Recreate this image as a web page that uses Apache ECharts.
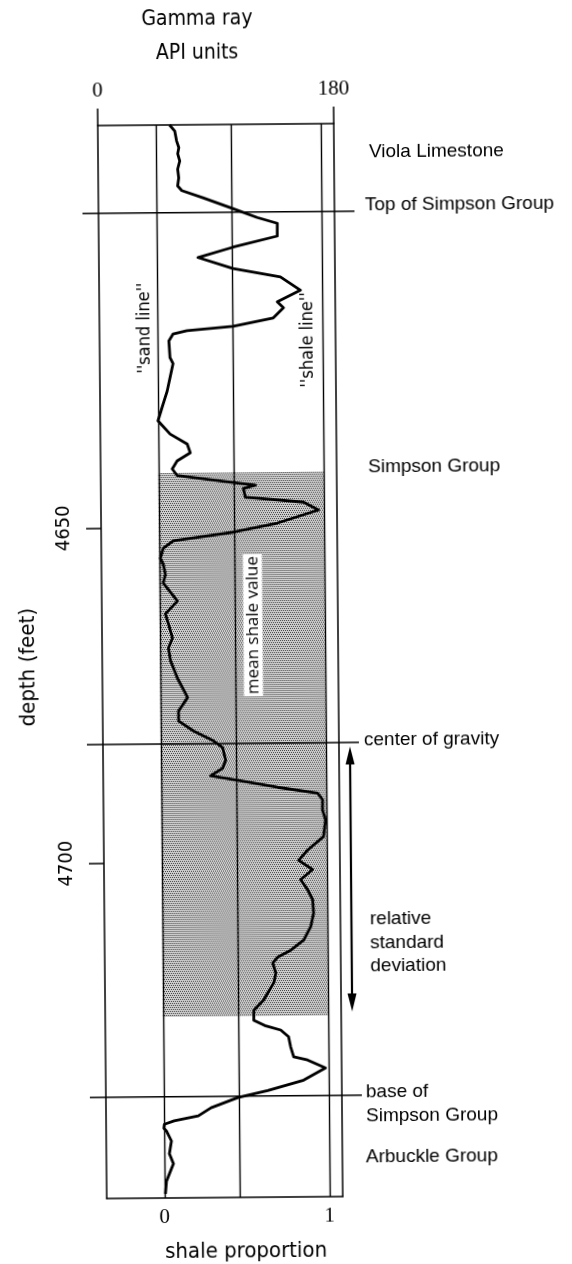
<!DOCTYPE html>
<html><head><meta charset="utf-8">
<script src="https://cdn.jsdelivr.net/npm/echarts@6/dist/echarts.min.js"></script>
<style>html,body{margin:0;padding:0;background:#fff;overflow:hidden}#c{width:572px;height:1264px;transform:rotate(-0.48deg);transform-origin:286px 632px}</style>
</head><body><div id="c"></div>
<script>
// ---- data ----
const depthFt = [4590.0,4590.9,4592.4,4593.4,4594.3,4595.4,4596.6,4597.9,4599.1,4599.8,4600.9,4602.5,4603.9,4604.8,4606.7,4608.3,4609.8,4611.5,4612.8,4614.8,4616.5,4617.4,4618.9,4620.1,4620.7,4621.2,4622.2,4624.7,4625.6,4627.7,4629.7,4631.6,4634.1,4636.1,4637.6,4638.9,4640.1,4641.3,4642.3,4643.4,4643.8,4644.3,4645.6,4646.4,4647.6,4649.5,4650.8,4652.0,4653.1,4654.6,4655.5,4657.0,4658.3,4661.0,4662.9,4664.4,4666.5,4668.0,4669.9,4672.5,4674.8,4675.4,4677.4,4678.9,4680.4,4681.9,4682.9,4684.8,4686.0,4687.1,4687.8,4688.9,4689.8,4690.8,4692.3,4693.8,4696.3,4698.3,4699.8,4701.2,4702.7,4704.2,4705.7,4707.7,4709.7,4711.7,4713.2,4714.2,4715.1,4716.6,4718.0,4720.6,4722.1,4723.6,4724.4,4725.1,4726.1,4727.6,4729.1,4729.6,4730.8,4732.6,4734.1,4735.1,4736.6,4737.8,4738.5,4739.0,4739.6,4740.0,4741.5,4743.4,4744.9,4746.4,4747.5,4749.4];
const shaleProp = [0.085,0.116,0.127,0.14,0.133,0.145,0.132,0.138,0.131,0.156,0.284,0.46,0.611,0.733,0.732,0.464,0.25,0.463,0.749,0.87,0.729,0.766,0.704,0.46,0.18,0.095,0.07,0.076,0.094,0.075,0.057,0.032,0.0,0.073,0.176,0.194,0.114,0.084,0.114,0.454,0.587,0.514,0.526,0.877,0.968,0.718,0.451,0.087,0.026,0.007,0.025,0.037,0.024,0.109,0.035,0.053,0.077,0.052,0.064,0.105,0.153,0.165,0.11,0.11,0.2,0.321,0.375,0.393,0.374,0.301,0.464,0.706,0.948,0.978,0.977,0.995,0.982,0.885,0.83,0.914,0.841,0.883,0.913,0.918,0.9,0.857,0.778,0.699,0.668,0.686,0.674,0.611,0.551,0.55,0.616,0.713,0.76,0.772,0.79,0.874,0.982,0.849,0.631,0.45,0.287,0.209,0.063,0.003,0.0,0.015,0.045,0.032,0.056,0.031,0.013,0.006];
const gammaTicks = [0, 180];
const shaleTicks = [0, 1];
const depthTicks = [4650, 4700];
const refLines = [0, 0.46, 1];               // sand line, mean shale value, shale line
const horizons = [4603.1, 4682.3, 4734.9];  // top of Simpson, center of gravity, base of Simpson
const shadeRange = [4641.9, 4723.0];
const sdArrow = [4682.9, 4722.4];

// ---- chart ----
const GL = 102, GT = 124, GW = 236, GH = 1073;
const COND = '"DejaVu Sans Condensed", "DejaVu Sans", sans-serif';
const HELV = '"Liberation Sans", Arial, sans-serif';
const SERIF = '"Liberation Serif", serif';
const chart = echarts.init(document.getElementById('c'), null, {renderer: 'canvas'});

const pc = document.createElement('canvas'); pc.width = 4; pc.height = 4;
const g = pc.getContext('2d');
g.fillStyle = '#cfcfcf'; g.fillRect(0, 0, 4, 4);
g.fillStyle = '#444';
[[0,0],[2,0],[1,2],[3,2]].forEach(p => g.fillRect(p[0], p[1], 1, 1));

const black = {color: '#000', width: 1.5};
const curveData = depthFt.map((d, i) => [shaleProp[i], d]);

chart.setOption({
  animation: false,
  backgroundColor: '#fff',
  grid: {left: GL, top: GT, width: GW, height: GH},
  xAxis: [
    {type: 'value', min: -0.35, max: 1.08, position: 'bottom',
     axisLine: {show: true, onZero: false, lineStyle: black}, axisTick: {show: false}, splitLine: {show: false},
     axisLabel: {customValues: shaleTicks, formatter: v => String(v), color: '#000', fontFamily: SERIF, fontSize: 21, margin: 9}},
    {type: 'value', min: 0, max: 180, position: 'top',
     axisLine: {show: true, onZero: false, lineStyle: black},
     axisTick: {show: true, customValues: gammaTicks, length: 17, lineStyle: black},
     splitLine: {show: false},
     axisLabel: {customValues: gammaTicks, formatter: v => String(v), color: '#000', fontFamily: SERIF, fontSize: 21, margin: 24}}
  ],
  yAxis: [
    {type: 'value', inverse: true, min: 4590, max: 4750, position: 'left',
     axisLine: {show: true, onZero: false, lineStyle: black},
     axisTick: {show: true, customValues: depthTicks, length: 15, lineStyle: black},
     splitLine: {show: false},
     axisLabel: {customValues: depthTicks, formatter: v => String(v), rotate: 90, color: '#000', fontFamily: COND, fontSize: 20, margin: 27}},
    {type: 'value', inverse: true, min: 4590, max: 4750, position: 'right',
     axisLine: {show: true, onZero: false, lineStyle: black}, axisTick: {show: false}, axisLabel: {show: false}, splitLine: {show: false}}
  ],
  series: [
    {type: 'custom', xAxisIndex: 0, yAxisIndex: 0, silent: true, z: 1,
     data: [[0, shadeRange[0], 1, shadeRange[1]]],
     renderItem: (params, api) => {
       const a = api.coord([api.value(0), api.value(1)]);
       const b = api.coord([api.value(2), api.value(3)]);
       return {type: 'rect', shape: {x: a[0], y: a[1], width: b[0] - a[0], height: b[1] - a[1]},
               style: {fill: {image: pc, repeat: 'repeat'}}};
     }},
    {type: 'line', xAxisIndex: 0, yAxisIndex: 0, data: [], silent: true, z: 2,
     markLine: {silent: true, symbol: ['none', 'none'], label: {show: false},
       lineStyle: {color: '#000', width: 1.4, type: 'solid'},
       data: refLines.map(v => ({xAxis: v}))}},
    {type: 'custom', xAxisIndex: 0, yAxisIndex: 0, silent: true, z: 3, clip: false,
     data: horizons.map(h => [0, h]),
     renderItem: (params, api) => {
       const p = api.coord([0, api.value(1)]);
       return {type: 'line', shape: {x1: GL - 16, y1: p[1], x2: GL + GW + 20, y2: p[1]},
               style: {stroke: '#000', lineWidth: 1.5}};
     }},
    {type: 'custom', xAxisIndex: 0, yAxisIndex: 0, silent: true, z: 3, clip: false,
     data: [[0, sdArrow[0], 0, sdArrow[1]]],
     renderItem: (params, api) => {
       const y1 = api.coord([0, api.value(1)])[1];
       const y2 = api.coord([0, api.value(3)])[1];
       const x = GL + GW + 11;
       return {type: 'group', children: [
         {type: 'line', shape: {x1: x, y1: y1 + 10, x2: x, y2: y2 - 10}, style: {stroke: '#000', lineWidth: 2.2}},
         {type: 'polygon', shape: {points: [[x, y1], [x - 4.5, y1 + 18], [x + 4.5, y1 + 18]]}, style: {fill: '#000'}},
         {type: 'polygon', shape: {points: [[x, y2], [x - 4.5, y2 - 18], [x + 4.5, y2 - 18]]}, style: {fill: '#000'}}
       ]};
     }},
    {type: 'line', xAxisIndex: 0, yAxisIndex: 0, data: curveData, z: 5,
     symbol: 'none', silent: true,
     lineStyle: {color: '#000', width: 2.8, join: 'round'}}
  ],
  graphic: [
    {type: 'text', x: 202, y: 19, style: {text: 'Gamma ray', font: '21px ' + COND, fill: '#000', textAlign: 'center', textVerticalAlign: 'middle'}},
    {type: 'text', x: 202, y: 53, style: {text: 'API units', font: '21px ' + COND, fill: '#000', textAlign: 'center', textVerticalAlign: 'middle'}},
    {type: 'text', x: 28, y: 665, rotation: Math.PI / 2, style: {text: 'depth (feet)', font: '22px ' + COND, fill: '#000', textAlign: 'center', textVerticalAlign: 'middle'}},
    {type: 'text', x: 241, y: 1251, style: {text: 'shale proportion', font: '22px ' + COND, fill: '#000', textAlign: 'center', textVerticalAlign: 'middle'}},
    {type: 'text', x: 147, y: 327, rotation: Math.PI / 2, style: {text: "''sand line''", font: '18px ' + COND, fill: '#000', textAlign: 'center', textVerticalAlign: 'middle'}},
    {type: 'text', x: 310, y: 340, rotation: Math.PI / 2, style: {text: "''shale line''", font: '18px ' + COND, fill: '#000', textAlign: 'center', textVerticalAlign: 'middle'}},
    {type: 'text', x: 253, y: 625, rotation: Math.PI / 2, z: 10, style: {text: 'mean shale value', font: '17px "Open Sans", sans-serif', fill: '#000', backgroundColor: '#fff', padding: [1, 2], textAlign: 'center', textVerticalAlign: 'middle'}},
    {type: 'text', x: 373, y: 153, style: {text: 'Viola Limestone', font: '19px ' + HELV, fill: '#000', textVerticalAlign: 'middle'}},
    {type: 'text', x: 368.5, y: 206, style: {text: 'Top of Simpson Group', font: '19px ' + HELV, fill: '#000', textVerticalAlign: 'middle'}},
    {type: 'text', x: 369.5, y: 468, style: {text: 'Simpson Group', font: '19px ' + HELV, fill: '#000', textVerticalAlign: 'middle'}},
    {type: 'text', x: 363, y: 741, style: {text: 'center of gravity', font: '19px ' + HELV, fill: '#000', textVerticalAlign: 'middle'}},
    {type: 'text', x: 367.5, y: 920, style: {text: 'relative', font: '19px ' + HELV, fill: '#000', textVerticalAlign: 'middle'}},
    {type: 'text', x: 367.5, y: 944, style: {text: 'standard', font: '19px ' + HELV, fill: '#000', textVerticalAlign: 'middle'}},
    {type: 'text', x: 367.5, y: 967, style: {text: 'deviation', font: '19px ' + HELV, fill: '#000', textVerticalAlign: 'middle'}},
    {type: 'text', x: 362, y: 1093, style: {text: 'base of', font: '19px ' + HELV, fill: '#000', textVerticalAlign: 'middle'}},
    {type: 'text', x: 362, y: 1117, style: {text: 'Simpson Group', font: '19px ' + HELV, fill: '#000', textVerticalAlign: 'middle'}},
    {type: 'text', x: 361.5, y: 1158, style: {text: 'Arbuckle Group', font: '19px ' + HELV, fill: '#000', textVerticalAlign: 'middle'}}
  ]
});
</script></body></html>
